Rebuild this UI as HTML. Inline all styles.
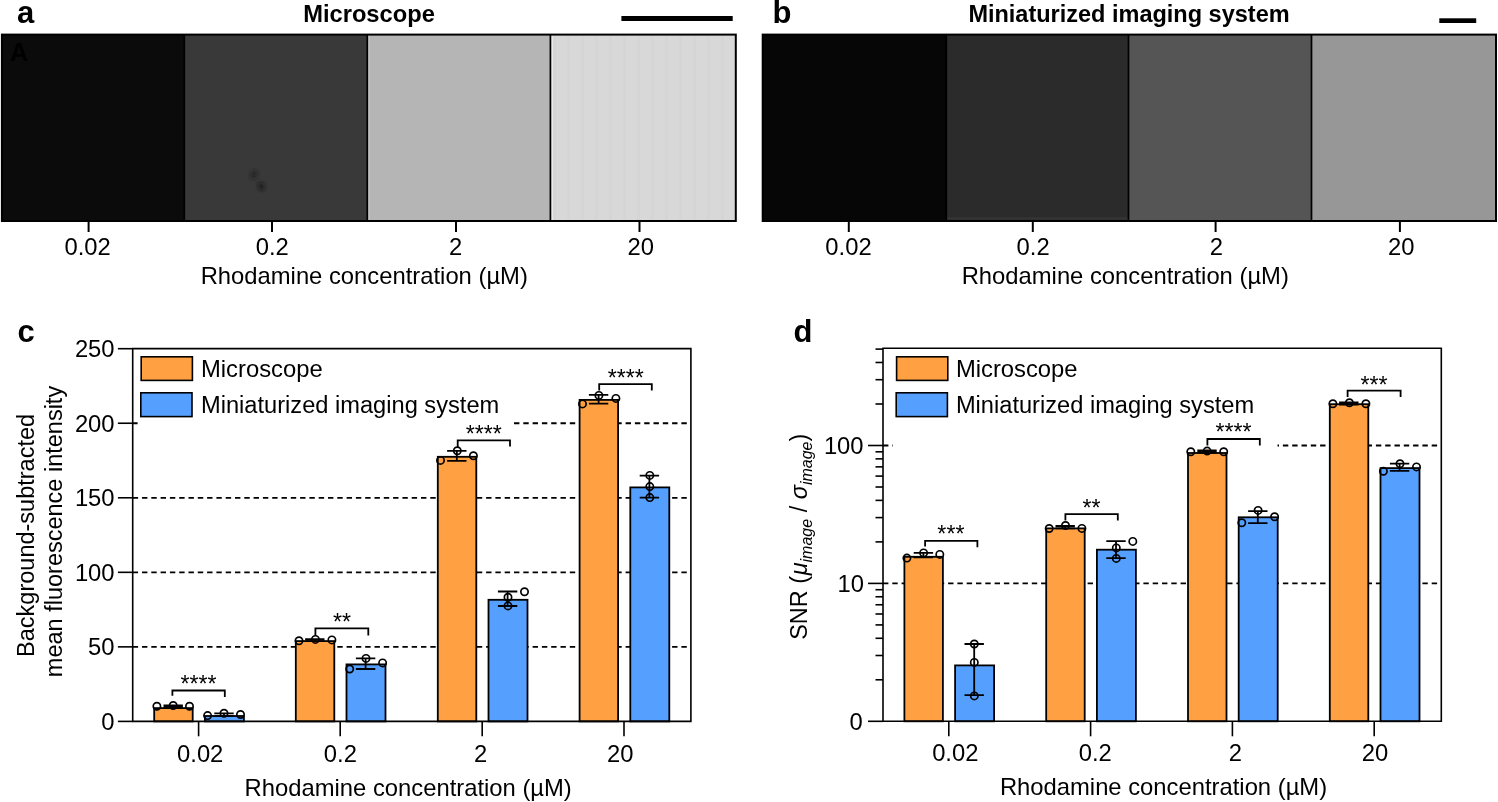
<!DOCTYPE html>
<html><head><meta charset="utf-8"><style>
html,body{margin:0;padding:0;background:#fff;width:1498px;height:802px;overflow:hidden}
svg{display:block;will-change:transform}
text{font-family:"Liberation Sans", sans-serif;fill:#000}
</style></head><body>
<svg width="1498" height="802" viewBox="0 0 1498 802">
<rect width="1498" height="802" fill="#fff"/>
<rect x="1.90" y="34.6" width="182.40" height="186.40" fill="#0b0b0b"/>
<rect x="184.30" y="34.6" width="183.00" height="186.40" fill="#393939"/>
<rect x="367.30" y="34.6" width="183.10" height="186.40" fill="#b5b5b5"/>
<rect x="550.40" y="34.6" width="185.40" height="186.40" fill="#d8d8d8"/>
<rect x="762.70" y="34.6" width="183.60" height="186.40" fill="#060606"/>
<rect x="946.30" y="34.6" width="182.20" height="186.40" fill="#2b2b2b"/>
<rect x="1128.50" y="34.6" width="183.00" height="186.40" fill="#555555"/>
<rect x="1311.50" y="34.6" width="184.50" height="186.40" fill="#979797"/>
<rect x="553" y="35" width="3" height="186" fill="#d3d3d3" opacity="0.6"/>
<rect x="567" y="35" width="3" height="186" fill="#d3d3d3" opacity="0.6"/>
<rect x="581" y="35" width="3" height="186" fill="#d3d3d3" opacity="0.6"/>
<rect x="595" y="35" width="3" height="186" fill="#d3d3d3" opacity="0.6"/>
<rect x="609" y="35" width="3" height="186" fill="#d3d3d3" opacity="0.6"/>
<rect x="623" y="35" width="3" height="186" fill="#d3d3d3" opacity="0.6"/>
<rect x="637" y="35" width="3" height="186" fill="#d3d3d3" opacity="0.6"/>
<rect x="651" y="35" width="3" height="186" fill="#d3d3d3" opacity="0.6"/>
<rect x="665" y="35" width="3" height="186" fill="#d3d3d3" opacity="0.6"/>
<rect x="679" y="35" width="3" height="186" fill="#d3d3d3" opacity="0.6"/>
<rect x="693" y="35" width="3" height="186" fill="#d3d3d3" opacity="0.6"/>
<rect x="707" y="35" width="3" height="186" fill="#d3d3d3" opacity="0.6"/>
<rect x="721" y="35" width="3" height="186" fill="#d3d3d3" opacity="0.6"/>
<defs><filter id="bl" x="-1" y="-1" width="3" height="3"><feGaussianBlur stdDeviation="2"/></filter></defs>
<g filter="url(#bl)"><ellipse cx="254.0" cy="174.6" rx="2.6" ry="3.6" transform="rotate(25 254 174.6)" fill="#1a1a1a"/><ellipse cx="261.2" cy="186.4" rx="2.6" ry="3.8" transform="rotate(-15 261.2 186.4)" fill="#181818"/></g>
<rect x="947" y="217.2" width="181" height="2.4" fill="#343434"/>
<rect x="368.3" y="35" width="1.3" height="186" fill="#c9c9c9"/>
<rect x="551.6" y="35" width="1.5" height="186" fill="#eaeaea"/>
<text x="10" y="61.4" font-size="25" text-anchor="start" font-weight="bold" font-style="normal" fill="#030303">A</text>
<line x1="184.3" y1="34.6" x2="184.3" y2="221.0" stroke="#000" stroke-width="1.7"/>
<line x1="367.3" y1="34.6" x2="367.3" y2="221.0" stroke="#000" stroke-width="1.7"/>
<line x1="550.4" y1="34.6" x2="550.4" y2="221.0" stroke="#000" stroke-width="1.7"/>
<rect x="1.9" y="34.6" width="733.90" height="186.40" fill="none" stroke="#000" stroke-width="2"/>
<line x1="946.3" y1="34.6" x2="946.3" y2="221.0" stroke="#000" stroke-width="1.7"/>
<line x1="1128.5" y1="34.6" x2="1128.5" y2="221.0" stroke="#000" stroke-width="1.7"/>
<line x1="1311.5" y1="34.6" x2="1311.5" y2="221.0" stroke="#000" stroke-width="1.7"/>
<rect x="762.7" y="34.6" width="733.30" height="186.40" fill="none" stroke="#000" stroke-width="2"/>
<rect x="621.4" y="16" width="111.3" height="5" fill="#000"/>
<rect x="1439.3" y="18.3" width="36.9" height="4.7" fill="#000"/>
<line x1="88.6" y1="221" x2="88.6" y2="232" stroke="#000" stroke-width="2"/>
<line x1="272.0" y1="221" x2="272.0" y2="232" stroke="#000" stroke-width="2"/>
<line x1="456.0" y1="221" x2="456.0" y2="232" stroke="#000" stroke-width="2"/>
<line x1="639.5" y1="221" x2="639.5" y2="232" stroke="#000" stroke-width="2"/>
<line x1="848.8" y1="221" x2="848.8" y2="232" stroke="#000" stroke-width="2"/>
<line x1="1032.8" y1="221" x2="1032.8" y2="232" stroke="#000" stroke-width="2"/>
<line x1="1215.6" y1="221" x2="1215.6" y2="232" stroke="#000" stroke-width="2"/>
<line x1="1399.9" y1="221" x2="1399.9" y2="232" stroke="#000" stroke-width="2"/>
<text x="17.0" y="22.7" font-size="31" text-anchor="start" font-weight="bold" font-style="normal" >a</text>
<text x="772.5" y="22.6" font-size="31" text-anchor="start" font-weight="bold" font-style="normal" >b</text>
<text x="17.5" y="342.3" font-size="31" text-anchor="start" font-weight="bold" font-style="normal" >c</text>
<text x="793.5" y="342.0" font-size="31" text-anchor="start" font-weight="bold" font-style="normal" >d</text>
<text x="369.0" y="21.6" font-size="23.7" text-anchor="middle" font-weight="bold" font-style="normal" >Microscope</text>
<text x="1129" y="21.6" font-size="23.5" text-anchor="middle" font-weight="bold" font-style="normal" >Miniaturized imaging system</text>
<text x="87.6" y="255.2" font-size="23.8" text-anchor="middle" font-weight="normal" font-style="normal" >0.02</text>
<text x="272.3" y="255.2" font-size="23.8" text-anchor="middle" font-weight="normal" font-style="normal" >0.2</text>
<text x="455.7" y="255.2" font-size="23.8" text-anchor="middle" font-weight="normal" font-style="normal" >2</text>
<text x="640.7" y="255.2" font-size="23.8" text-anchor="middle" font-weight="normal" font-style="normal" >20</text>
<text x="848.5" y="255.4" font-size="23.8" text-anchor="middle" font-weight="normal" font-style="normal" >0.02</text>
<text x="1033.1" y="255.4" font-size="23.8" text-anchor="middle" font-weight="normal" font-style="normal" >0.2</text>
<text x="1216.3" y="255.4" font-size="23.8" text-anchor="middle" font-weight="normal" font-style="normal" >2</text>
<text x="1401.2" y="255.4" font-size="23.8" text-anchor="middle" font-weight="normal" font-style="normal" >20</text>
<text x="364.25" y="284.2" font-size="23.8" text-anchor="middle" font-weight="normal" font-style="normal" >Rhodamine concentration (µM)</text>
<text x="1125.25" y="284.2" font-size="23.8" text-anchor="middle" font-weight="normal" font-style="normal" >Rhodamine concentration (µM)</text>
<line x1="132.7" y1="646.86" x2="690.9" y2="646.86" stroke="#000" stroke-width="1.8" stroke-dasharray="5.4 3.9"/>
<line x1="132.7" y1="572.32" x2="690.9" y2="572.32" stroke="#000" stroke-width="1.8" stroke-dasharray="5.4 3.9"/>
<line x1="132.7" y1="497.78" x2="690.9" y2="497.78" stroke="#000" stroke-width="1.8" stroke-dasharray="5.4 3.9"/>
<line x1="132.7" y1="423.24" x2="690.9" y2="423.24" stroke="#000" stroke-width="1.8" stroke-dasharray="5.4 3.9"/>
<rect x="137.6" y="350" width="375.9" height="80" fill="#fff"/>
<rect x="154.20" y="708.1" width="38.50" height="13.30" fill="#FFA142" stroke="#000" stroke-width="1.8"/>
<rect x="204.90" y="716.0" width="39.00" height="5.40" fill="#55A0FF" stroke="#000" stroke-width="1.8"/>
<path d="M163.50 705.3H182.90M163.50 707.0H182.90M173.20 705.3V707.0" stroke="#000" stroke-width="1.8" fill="none"/>
<path d="M214.30 713.4H233.70M214.30 715.8H233.70M224.00 713.4V715.8" stroke="#000" stroke-width="1.8" fill="none"/>
<circle cx="156.9" cy="706.3" r="3.65" fill="none" stroke="#000" stroke-width="1.7"/>
<circle cx="173.2" cy="705.5" r="3.65" fill="none" stroke="#000" stroke-width="1.7"/>
<circle cx="189.5" cy="706.3" r="3.65" fill="none" stroke="#000" stroke-width="1.7"/>
<circle cx="207.6" cy="715.6" r="3.65" fill="none" stroke="#000" stroke-width="1.7"/>
<circle cx="224" cy="713.2" r="3.65" fill="none" stroke="#000" stroke-width="1.7"/>
<circle cx="240.5" cy="714.5" r="3.65" fill="none" stroke="#000" stroke-width="1.7"/>
<rect x="295.80" y="641.1" width="38.50" height="80.30" fill="#FFA142" stroke="#000" stroke-width="1.8"/>
<rect x="346.50" y="664.4" width="39.00" height="57.00" fill="#55A0FF" stroke="#000" stroke-width="1.8"/>
<path d="M305.10 639.2H324.50M305.10 641.2H324.50M314.80 639.2V641.2" stroke="#000" stroke-width="1.8" fill="none"/>
<path d="M355.90 658.4H375.30M355.90 669H375.30M365.60 658.4V669" stroke="#000" stroke-width="1.8" fill="none"/>
<circle cx="299" cy="640.7" r="3.65" fill="none" stroke="#000" stroke-width="1.7"/>
<circle cx="315.4" cy="639.4" r="3.65" fill="none" stroke="#000" stroke-width="1.7"/>
<circle cx="331.9" cy="639.9" r="3.65" fill="none" stroke="#000" stroke-width="1.7"/>
<circle cx="349.7" cy="669" r="3.65" fill="none" stroke="#000" stroke-width="1.7"/>
<circle cx="366" cy="658.4" r="3.65" fill="none" stroke="#000" stroke-width="1.7"/>
<circle cx="382.6" cy="662.9" r="3.65" fill="none" stroke="#000" stroke-width="1.7"/>
<rect x="437.80" y="456.8" width="38.50" height="264.60" fill="#FFA142" stroke="#000" stroke-width="1.8"/>
<rect x="488.50" y="599.8" width="39.00" height="121.60" fill="#55A0FF" stroke="#000" stroke-width="1.8"/>
<path d="M447.10 450.8H466.50M447.10 460.8H466.50M456.80 450.8V460.8" stroke="#000" stroke-width="1.8" fill="none"/>
<path d="M497.90 591.5H517.30M497.90 606H517.30M507.60 591.5V606" stroke="#000" stroke-width="1.8" fill="none"/>
<circle cx="440.5" cy="460.4" r="3.65" fill="none" stroke="#000" stroke-width="1.7"/>
<circle cx="457.3" cy="450.7" r="3.65" fill="none" stroke="#000" stroke-width="1.7"/>
<circle cx="473.4" cy="455.8" r="3.65" fill="none" stroke="#000" stroke-width="1.7"/>
<circle cx="508" cy="597.3" r="3.65" fill="none" stroke="#000" stroke-width="1.7"/>
<circle cx="508" cy="605.9" r="3.65" fill="none" stroke="#000" stroke-width="1.7"/>
<circle cx="524.5" cy="591.7" r="3.65" fill="none" stroke="#000" stroke-width="1.7"/>
<rect x="579.60" y="399.9" width="38.50" height="321.50" fill="#FFA142" stroke="#000" stroke-width="1.8"/>
<rect x="630.30" y="487.4" width="39.00" height="234.00" fill="#55A0FF" stroke="#000" stroke-width="1.8"/>
<path d="M588.90 394.9H608.30M588.90 403.6H608.30M598.60 394.9V403.6" stroke="#000" stroke-width="1.8" fill="none"/>
<path d="M639.70 475.6H659.10M639.70 497.6H659.10M649.40 475.6V497.6" stroke="#000" stroke-width="1.8" fill="none"/>
<circle cx="582.5" cy="403.9" r="3.65" fill="none" stroke="#000" stroke-width="1.7"/>
<circle cx="598.9" cy="395.4" r="3.65" fill="none" stroke="#000" stroke-width="1.7"/>
<circle cx="615.9" cy="398.4" r="3.65" fill="none" stroke="#000" stroke-width="1.7"/>
<circle cx="649.8" cy="475.4" r="3.65" fill="none" stroke="#000" stroke-width="1.7"/>
<circle cx="649.8" cy="486.6" r="3.65" fill="none" stroke="#000" stroke-width="1.7"/>
<circle cx="649.8" cy="497.6" r="3.65" fill="none" stroke="#000" stroke-width="1.7"/>
<path d="M172.4 695.8V690.5H224.8V696.9" stroke="#000" stroke-width="1.8" fill="none"/>
<text x="198.6" y="691.7" font-size="23.2" text-anchor="middle" font-weight="normal" font-style="normal" >****</text>
<path d="M315.4 635.4V628.4H368.3V635.4" stroke="#000" stroke-width="1.8" fill="none"/>
<text x="342" y="629.7" font-size="23.2" text-anchor="middle" font-weight="normal" font-style="normal" >**</text>
<path d="M457.7 447V440.3H510V446.6" stroke="#000" stroke-width="1.8" fill="none"/>
<text x="483.8" y="441.7" font-size="23.2" text-anchor="middle" font-weight="normal" font-style="normal" >****</text>
<path d="M599.2 390.4V384.1H651.8V390.4" stroke="#000" stroke-width="1.8" fill="none"/>
<text x="625.8" y="385.7" font-size="23.2" text-anchor="middle" font-weight="normal" font-style="normal" >****</text>
<path d="M132.7 348.6V721.4H690.9V348.6Z" fill="none" stroke="#000" stroke-width="1.6"/>
<line x1="117.9" y1="721.40" x2="132.7" y2="721.40" stroke="#000" stroke-width="1.6"/>
<text x="114.6" y="729.8" font-size="23.8" text-anchor="end" font-weight="normal" font-style="normal" >0</text>
<line x1="117.9" y1="646.86" x2="132.7" y2="646.86" stroke="#000" stroke-width="1.6"/>
<text x="114.6" y="655.26" font-size="23.8" text-anchor="end" font-weight="normal" font-style="normal" >50</text>
<line x1="117.9" y1="572.32" x2="132.7" y2="572.32" stroke="#000" stroke-width="1.6"/>
<text x="114.6" y="580.7199999999999" font-size="23.8" text-anchor="end" font-weight="normal" font-style="normal" >100</text>
<line x1="117.9" y1="497.78" x2="132.7" y2="497.78" stroke="#000" stroke-width="1.6"/>
<text x="114.6" y="506.17999999999995" font-size="23.8" text-anchor="end" font-weight="normal" font-style="normal" >150</text>
<line x1="117.9" y1="423.24" x2="132.7" y2="423.24" stroke="#000" stroke-width="1.6"/>
<text x="114.6" y="431.64" font-size="23.8" text-anchor="end" font-weight="normal" font-style="normal" >200</text>
<line x1="117.9" y1="348.70" x2="132.7" y2="348.70" stroke="#000" stroke-width="1.6"/>
<text x="114.6" y="357.09999999999997" font-size="23.8" text-anchor="end" font-weight="normal" font-style="normal" >250</text>
<line x1="198.6" y1="721.4" x2="198.6" y2="736.3" stroke="#000" stroke-width="1.6"/>
<line x1="340.2" y1="721.4" x2="340.2" y2="736.3" stroke="#000" stroke-width="1.6"/>
<line x1="482.2" y1="721.4" x2="482.2" y2="736.3" stroke="#000" stroke-width="1.6"/>
<line x1="624.0" y1="721.4" x2="624.0" y2="736.3" stroke="#000" stroke-width="1.6"/>
<rect x="141.2" y="356.8" width="51.2" height="23.6" fill="#FFA142" stroke="#000" stroke-width="1.6"/>
<rect x="140.8" y="392.8" width="51.2" height="23.8" fill="#55A0FF" stroke="#000" stroke-width="1.6"/>
<text x="201.0" y="376.6" font-size="23.8" text-anchor="start" font-weight="normal" font-style="normal" >Microscope</text>
<text x="201.0" y="412.6" font-size="23.65" text-anchor="start" font-weight="normal" font-style="normal" >Miniaturized imaging system</text>
<text x="200.2" y="761.6" font-size="23.8" text-anchor="middle" font-weight="normal" font-style="normal" >0.02</text>
<text x="340.4" y="761.6" font-size="23.8" text-anchor="middle" font-weight="normal" font-style="normal" >0.2</text>
<text x="480.5" y="761.6" font-size="23.8" text-anchor="middle" font-weight="normal" font-style="normal" >2</text>
<text x="620.3" y="761.6" font-size="23.8" text-anchor="middle" font-weight="normal" font-style="normal" >20</text>
<text x="408.2" y="796" font-size="23.8" text-anchor="middle" font-weight="normal" font-style="normal" >Rhodamine concentration (µM)</text>
<text transform="translate(34,535.4) rotate(-90)" font-size="23.5" text-anchor="middle">Background-subtracted</text>
<text transform="translate(62.4,531.5) rotate(-90)" font-size="23.5" text-anchor="middle">mean fluorescence intensity</text>
<line x1="883.0" y1="583.40" x2="1441.3" y2="583.40" stroke="#000" stroke-width="1.8" stroke-dasharray="5.4 3.9"/>
<line x1="883.0" y1="445.50" x2="1441.3" y2="445.50" stroke="#000" stroke-width="1.8" stroke-dasharray="5.4 3.9"/>
<rect x="892.8" y="350" width="384.7" height="100" fill="#fff"/>
<rect x="904.40" y="556.8" width="38.50" height="164.50" fill="#FFA142" stroke="#000" stroke-width="1.8"/>
<rect x="955.10" y="665.4" width="39.00" height="55.90" fill="#55A0FF" stroke="#000" stroke-width="1.8"/>
<path d="M913.70 552.8H933.10M913.70 557.4H933.10M923.40 552.8V557.4" stroke="#000" stroke-width="1.8" fill="none"/>
<path d="M964.50 644H983.90M964.50 695.1H983.90M974.20 644V695.1" stroke="#000" stroke-width="1.8" fill="none"/>
<circle cx="906.9" cy="558.1" r="3.65" fill="none" stroke="#000" stroke-width="1.7"/>
<circle cx="923.6" cy="552.9" r="3.65" fill="none" stroke="#000" stroke-width="1.7"/>
<circle cx="939.8" cy="554.4" r="3.65" fill="none" stroke="#000" stroke-width="1.7"/>
<circle cx="974.3" cy="644" r="3.65" fill="none" stroke="#000" stroke-width="1.7"/>
<circle cx="974.3" cy="662.4" r="3.65" fill="none" stroke="#000" stroke-width="1.7"/>
<circle cx="974.3" cy="695.9" r="3.65" fill="none" stroke="#000" stroke-width="1.7"/>
<rect x="1046.20" y="528.4" width="38.50" height="192.90" fill="#FFA142" stroke="#000" stroke-width="1.8"/>
<rect x="1096.90" y="549.7" width="39.00" height="171.60" fill="#55A0FF" stroke="#000" stroke-width="1.8"/>
<path d="M1055.50 526H1074.90M1055.50 528.4H1074.90M1065.20 526V528.4" stroke="#000" stroke-width="1.8" fill="none"/>
<path d="M1106.30 541.1H1125.70M1106.30 558.1H1125.70M1116.00 541.1V558.1" stroke="#000" stroke-width="1.8" fill="none"/>
<circle cx="1049.2" cy="528.5" r="3.65" fill="none" stroke="#000" stroke-width="1.7"/>
<circle cx="1065.5" cy="525.5" r="3.65" fill="none" stroke="#000" stroke-width="1.7"/>
<circle cx="1081.9" cy="528.4" r="3.65" fill="none" stroke="#000" stroke-width="1.7"/>
<circle cx="1116.3" cy="547.9" r="3.65" fill="none" stroke="#000" stroke-width="1.7"/>
<circle cx="1116.3" cy="558.4" r="3.65" fill="none" stroke="#000" stroke-width="1.7"/>
<circle cx="1132.8" cy="541.4" r="3.65" fill="none" stroke="#000" stroke-width="1.7"/>
<rect x="1188.00" y="453.0" width="38.50" height="268.30" fill="#FFA142" stroke="#000" stroke-width="1.8"/>
<rect x="1238.70" y="517.3" width="39.00" height="204.00" fill="#55A0FF" stroke="#000" stroke-width="1.8"/>
<path d="M1197.30 450.5H1216.70M1197.30 452.5H1216.70M1207.00 450.5V452.5" stroke="#000" stroke-width="1.8" fill="none"/>
<path d="M1248.10 511.2H1267.50M1248.10 523.1H1267.50M1257.80 511.2V523.1" stroke="#000" stroke-width="1.8" fill="none"/>
<circle cx="1190.8" cy="451.7" r="3.65" fill="none" stroke="#000" stroke-width="1.7"/>
<circle cx="1207.1" cy="451.1" r="3.65" fill="none" stroke="#000" stroke-width="1.7"/>
<circle cx="1223.7" cy="451.7" r="3.65" fill="none" stroke="#000" stroke-width="1.7"/>
<circle cx="1241.8" cy="522.7" r="3.65" fill="none" stroke="#000" stroke-width="1.7"/>
<circle cx="1258.1" cy="510.4" r="3.65" fill="none" stroke="#000" stroke-width="1.7"/>
<circle cx="1274.6" cy="516.7" r="3.65" fill="none" stroke="#000" stroke-width="1.7"/>
<rect x="1329.80" y="404.2" width="38.50" height="317.10" fill="#FFA142" stroke="#000" stroke-width="1.8"/>
<rect x="1380.50" y="468.1" width="39.00" height="253.20" fill="#55A0FF" stroke="#000" stroke-width="1.8"/>
<path d="M1339.10 402.5H1358.50M1339.10 404.5H1358.50M1348.80 402.5V404.5" stroke="#000" stroke-width="1.8" fill="none"/>
<path d="M1389.90 463.7H1409.30M1389.90 470.9H1409.30M1399.60 463.7V470.9" stroke="#000" stroke-width="1.8" fill="none"/>
<circle cx="1332.9" cy="403.7" r="3.65" fill="none" stroke="#000" stroke-width="1.7"/>
<circle cx="1349.4" cy="402.7" r="3.65" fill="none" stroke="#000" stroke-width="1.7"/>
<circle cx="1365.9" cy="403.7" r="3.65" fill="none" stroke="#000" stroke-width="1.7"/>
<circle cx="1383.4" cy="471.2" r="3.65" fill="none" stroke="#000" stroke-width="1.7"/>
<circle cx="1400" cy="463.7" r="3.65" fill="none" stroke="#000" stroke-width="1.7"/>
<circle cx="1416.5" cy="466.9" r="3.65" fill="none" stroke="#000" stroke-width="1.7"/>
<path d="M925.1 546.6V540.9H977.4V547.3" stroke="#000" stroke-width="1.8" fill="none"/>
<text x="950.9" y="542.3000000000001" font-size="23.2" text-anchor="middle" font-weight="normal" font-style="normal" >***</text>
<path d="M1065.4 520.4V514.2H1117.8V520.4" stroke="#000" stroke-width="1.8" fill="none"/>
<text x="1091.6" y="516.3000000000001" font-size="23.2" text-anchor="middle" font-weight="normal" font-style="normal" >**</text>
<path d="M1207.4 445.5V439H1259.8V445.5" stroke="#000" stroke-width="1.8" fill="none"/>
<text x="1233.5" y="440.4" font-size="23.2" text-anchor="middle" font-weight="normal" font-style="normal" >****</text>
<path d="M1347.6 397.1V390.7H1400.6V397.1" stroke="#000" stroke-width="1.8" fill="none"/>
<text x="1374" y="392.5" font-size="23.2" text-anchor="middle" font-weight="normal" font-style="normal" >***</text>
<path d="M883.0 348.3V721.3H1441.3V348.3Z" fill="none" stroke="#000" stroke-width="1.6"/>
<line x1="868" y1="721.30" x2="883.0" y2="721.30" stroke="#000" stroke-width="1.6"/>
<line x1="875.5" y1="679.79" x2="883.0" y2="679.79" stroke="#000" stroke-width="1.6"/>
<line x1="875.5" y1="655.50" x2="883.0" y2="655.50" stroke="#000" stroke-width="1.6"/>
<line x1="875.5" y1="638.28" x2="883.0" y2="638.28" stroke="#000" stroke-width="1.6"/>
<line x1="875.5" y1="624.91" x2="883.0" y2="624.91" stroke="#000" stroke-width="1.6"/>
<line x1="875.5" y1="613.99" x2="883.0" y2="613.99" stroke="#000" stroke-width="1.6"/>
<line x1="875.5" y1="604.76" x2="883.0" y2="604.76" stroke="#000" stroke-width="1.6"/>
<line x1="875.5" y1="596.76" x2="883.0" y2="596.76" stroke="#000" stroke-width="1.6"/>
<line x1="875.5" y1="589.71" x2="883.0" y2="589.71" stroke="#000" stroke-width="1.6"/>
<line x1="868" y1="583.40" x2="883.0" y2="583.40" stroke="#000" stroke-width="1.6"/>
<line x1="875.5" y1="541.89" x2="883.0" y2="541.89" stroke="#000" stroke-width="1.6"/>
<line x1="875.5" y1="517.60" x2="883.0" y2="517.60" stroke="#000" stroke-width="1.6"/>
<line x1="875.5" y1="500.38" x2="883.0" y2="500.38" stroke="#000" stroke-width="1.6"/>
<line x1="875.5" y1="487.01" x2="883.0" y2="487.01" stroke="#000" stroke-width="1.6"/>
<line x1="875.5" y1="476.09" x2="883.0" y2="476.09" stroke="#000" stroke-width="1.6"/>
<line x1="875.5" y1="466.86" x2="883.0" y2="466.86" stroke="#000" stroke-width="1.6"/>
<line x1="875.5" y1="458.86" x2="883.0" y2="458.86" stroke="#000" stroke-width="1.6"/>
<line x1="875.5" y1="451.81" x2="883.0" y2="451.81" stroke="#000" stroke-width="1.6"/>
<line x1="868" y1="445.50" x2="883.0" y2="445.50" stroke="#000" stroke-width="1.6"/>
<line x1="875.5" y1="403.99" x2="883.0" y2="403.99" stroke="#000" stroke-width="1.6"/>
<line x1="875.5" y1="379.70" x2="883.0" y2="379.70" stroke="#000" stroke-width="1.6"/>
<line x1="875.5" y1="362.48" x2="883.0" y2="362.48" stroke="#000" stroke-width="1.6"/>
<line x1="875.5" y1="349.11" x2="883.0" y2="349.11" stroke="#000" stroke-width="1.6"/>
<text x="862.8" y="729.6999999999999" font-size="23.8" text-anchor="end" font-weight="normal" font-style="normal" >0</text>
<text x="864.0" y="592.0" font-size="23.8" text-anchor="end" font-weight="normal" font-style="normal" >10</text>
<text x="863.6" y="454.09999999999997" font-size="23.8" text-anchor="end" font-weight="normal" font-style="normal" >100</text>
<line x1="948.8" y1="721.3" x2="948.8" y2="736.3" stroke="#000" stroke-width="1.6"/>
<line x1="1090.6" y1="721.3" x2="1090.6" y2="736.3" stroke="#000" stroke-width="1.6"/>
<line x1="1232.4" y1="721.3" x2="1232.4" y2="736.3" stroke="#000" stroke-width="1.6"/>
<line x1="1374.2" y1="721.3" x2="1374.2" y2="736.3" stroke="#000" stroke-width="1.6"/>
<rect x="896.6" y="356.8" width="51.2" height="23.6" fill="#FFA142" stroke="#000" stroke-width="1.6"/>
<rect x="896.2" y="392.8" width="51.2" height="23.8" fill="#55A0FF" stroke="#000" stroke-width="1.6"/>
<text x="955.9" y="376.6" font-size="23.8" text-anchor="start" font-weight="normal" font-style="normal" >Microscope</text>
<text x="955.9" y="412.6" font-size="23.65" text-anchor="start" font-weight="normal" font-style="normal" >Miniaturized imaging system</text>
<text x="955.3" y="761.4" font-size="23.8" text-anchor="middle" font-weight="normal" font-style="normal" >0.02</text>
<text x="1095.2" y="761.4" font-size="23.8" text-anchor="middle" font-weight="normal" font-style="normal" >0.2</text>
<text x="1235.3" y="761.4" font-size="23.8" text-anchor="middle" font-weight="normal" font-style="normal" >2</text>
<text x="1375.1" y="761.4" font-size="23.8" text-anchor="middle" font-weight="normal" font-style="normal" >20</text>
<text x="1163.5" y="795.4" font-size="23.8" text-anchor="middle" font-weight="normal" font-style="normal" >Rhodamine concentration (µM)</text>
<text transform="translate(807,639.8) rotate(-90)" font-size="23.5">SNR (<tspan font-style="italic" dx="0.5">μ</tspan><tspan font-style="italic" font-size="16" dy="5">image</tspan><tspan dy="-5"> / </tspan><tspan font-style="italic">σ</tspan><tspan font-style="italic" font-size="16" dy="5">image</tspan><tspan dy="-5">)</tspan></text>
</svg>
</body></html>
